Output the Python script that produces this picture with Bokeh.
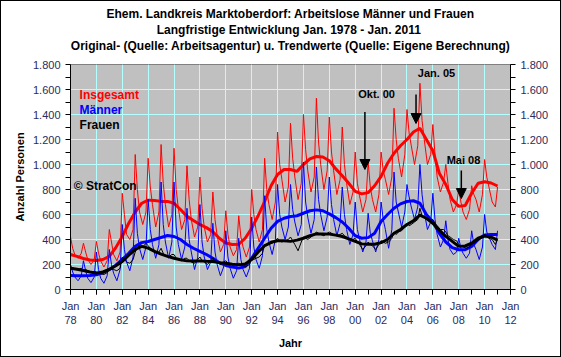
from bokeh.plotting import figure
from bokeh.models import Label, Arrow, NormalHead, LinearAxis, FixedTicker, Title
from bokeh.embed import file_html
from bokeh.resources import INLINE

# ---------------- data ----------------
years = list(range(1978, 2011))
months = [1, 3, 5, 8, 11]          # sampled months per year (Jan, Mar, May, Aug, Nov)
end_point = 2011.0                  # last observation: Jan 2011

# raw values per year: [Jan, Mar, May, Aug, Nov]
insgesamt_raw = [
    [420, 330, 280, 250, 290], [370, 300, 240, 200, 240], [385, 290, 230, 180, 230],
    [480, 380, 280, 230, 300], [770, 600, 440, 400, 480], [1080, 800, 620, 520, 620],
    [1050, 820, 680, 500, 620], [1160, 850, 680, 500, 600], [1130, 800, 650, 480, 560],
    [990, 720, 560, 420, 500], [900, 650, 500, 380, 440], [780, 560, 430, 300, 360],
    [630, 440, 340, 270, 320], [590, 420, 340, 260, 340], [800, 600, 480, 380, 480],
    [1050, 800, 680, 560, 700], [1260, 1000, 880, 700, 820], [1330, 1050, 900, 720, 850],
    [1400, 1120, 950, 780, 900], [1530, 1180, 1000, 800, 950], [1380, 1100, 950, 760, 880],
    [1300, 1000, 850, 680, 780], [1100, 850, 750, 620, 720], [1020, 820, 720, 620, 760],
    [1100, 950, 880, 760, 900], [1450, 1200, 1050, 900, 1080], [1440, 1250, 1150, 1000, 1150],
    [1650, 1350, 1200, 1000, 1080], [1320, 1080, 900, 780, 860], [1000, 850, 720, 620, 680],
    [800, 700, 620, 560, 640], [830, 760, 720, 620, 760], [1040, 900, 820, 700, 660],
]
insgesamt_end = 820

maenner_raw = [
    [200, 140, 100, 70, 110], [230, 150, 90, 55, 100], [300, 160, 90, 50, 110],
    [320, 200, 130, 70, 160], [520, 320, 220, 150, 260], [730, 450, 330, 240, 340],
    [720, 480, 360, 250, 360], [860, 520, 380, 250, 380], [860, 500, 360, 240, 340],
    [650, 400, 300, 160, 260], [680, 380, 260, 160, 220], [530, 300, 200, 110, 180],
    [470, 260, 170, 90, 150], [410, 240, 160, 100, 170], [580, 340, 240, 170, 270],
    [750, 480, 380, 280, 400], [840, 600, 500, 400, 500], [840, 640, 540, 430, 520],
    [1020, 700, 580, 450, 560], [980, 720, 600, 470, 580], [900, 680, 560, 430, 530],
    [820, 600, 480, 360, 440], [700, 480, 400, 300, 380], [610, 450, 390, 300, 400],
    [700, 560, 480, 330, 480], [940, 700, 620, 500, 620], [840, 740, 660, 560, 660],
    [1000, 760, 620, 480, 540], [770, 560, 440, 340, 400], [550, 400, 320, 280, 300],
    [410, 330, 290, 250, 290], [470, 360, 320, 240, 340], [600, 460, 420, 360, 320],
]
maenner_end = 470

frauen_raw = [
    [180, 175, 165, 160, 170], [150, 160, 150, 140, 145], [140, 135, 125, 120, 135],
    [170, 165, 160, 150, 170], [260, 240, 220, 210, 240], [300, 330, 350, 340, 370],
    [350, 330, 320, 290, 300], [330, 290, 270, 260, 280], [280, 250, 240, 230, 250],
    [250, 230, 220, 210, 240], [260, 230, 220, 200, 230], [250, 230, 215, 200, 220],
    [230, 210, 205, 190, 205], [210, 200, 190, 185, 200], [250, 240, 250, 260, 290],
    [360, 350, 360, 370, 390], [410, 390, 380, 390, 400], [420, 390, 360, 310, 380],
    [420, 410, 400, 420, 440], [460, 450, 440, 430, 450], [460, 450, 440, 430, 440],
    [450, 430, 420, 400, 400], [410, 380, 360, 320, 350], [380, 360, 350, 320, 360],
    [390, 380, 370, 380, 410], [460, 440, 460, 470, 500], [530, 510, 520, 540, 560],
    [650, 590, 580, 560, 560], [560, 530, 510, 480, 480], [460, 430, 420, 400, 390],
    [360, 350, 340, 330, 340], [370, 370, 380, 400, 420], [440, 420, 410, 400, 360],
]
frauen_end = 400

# trend values, half-yearly from Jan 1978 to Jan 2011
insgesamt_trend = [
    280, 265, 248, 236, 232, 240, 265, 335, 425, 530, 620, 690, 715, 712, 705, 705,
    690, 640, 585, 552, 520, 495, 462, 410, 372, 360, 362, 410, 490, 590, 704, 830,
    920, 960, 960, 945, 1000, 1045, 1064, 1060, 1030, 965, 910, 850, 785, 765, 775, 830,
    905, 1010, 1090, 1150, 1200, 1260, 1290, 1200, 1110, 930, 840, 720, 665, 672,
    770, 850, 862, 852, 828,
]
maenner_trend = [
    112, 110, 110, 112, 117, 135, 160, 195, 240, 290, 345, 375, 384, 400, 416, 432,
    424, 400, 360, 330, 305, 280, 250, 215, 192, 180, 171, 184, 250, 330, 410, 490,
    545, 570, 584, 590, 610, 630, 637, 630, 605, 575, 540, 490, 430, 410, 415, 450,
    544, 600, 650, 685, 704, 710, 690, 600, 540, 450, 380, 335, 318, 318,
    344, 400, 437, 440, 440,
]
frauen_trend = [
    170, 162, 152, 140, 131, 140, 160, 190, 224, 275, 320, 345, 331, 305, 283, 265,
    250, 238, 229, 228, 229, 226, 224, 215, 210, 203, 197, 205, 240, 300, 350, 378,
    390, 390, 385, 395, 410, 430, 445, 445, 443, 435, 424, 405, 385, 365, 362, 362,
    375, 400, 450, 480, 520, 550, 595, 570, 530, 475, 425, 385, 345, 348,
    370, 410, 428, 420, 395,
]

y_ticks = [0, 200, 400, 600, 800, 1000, 1200, 1400, 1600, 1800]
y_tick_labels = ["0", "200", "400", "600", "800", "1.000", "1.200", "1.400", "1.600", "1.800"]
x_ticks = list(range(1978, 2013, 2))
x_tick_labels = ["Jan\n%02d" % (y % 100) for y in x_ticks]

title_lines = [
    "Ehem. Landkreis Marktoberdorf: Arbeitslose Männer und Frauen",
    "Langfristige Entwicklung Jan. 1978 -  Jan. 2011",
    "Original- (Quelle: Arbeitsagentur) u. Trendwerte (Quelle: Eigene Berechnung)",
]

# ---------------- derived x positions ----------------
raw_t = [y + (m - 1) / 12 for y in years for m in months] + [end_point]
trend_t = [1978 + i / 2 for i in range(len(insgesamt_trend))]

def flat(rows, end):
    return [v for r in rows for v in r] + [end]

# ---------------- figure ----------------
p = figure(width=561, height=357, x_range=(1978, 2012), y_range=(0, 1800),
           output_backend="svg", toolbar_location=None, title=None,
           min_border_left=69, min_border_right=52, min_border_top=63, min_border_bottom=69)
p.background_fill_color = "#C0C0C0"
p.border_fill_color = "white"
p.outline_line_color = "#808080"
p.styles = {"border": "1px solid black", "box-sizing": "border-box"}

FONT = "Liberation Sans"
LBL = "#2B2B5E"

# spacer between plot area and title block
p.add_layout(Title(text=" ", standoff=0, text_font=FONT, text_font_size="9px"), "above")
# stacked title lines (added from the plot outwards)
for txt in reversed(title_lines):
    p.add_layout(Title(text=txt, align="center", offset=-30, standoff=0,
                       text_font=FONT, text_font_size="12px", text_font_style="bold",
                       text_color="black"), "above")

p.xaxis.ticker = FixedTicker(ticks=x_ticks, minor_ticks=list(range(1978, 2013)))
p.xaxis.major_label_overrides = dict(zip(x_ticks, x_tick_labels))
p.yaxis.ticker = FixedTicker(ticks=y_ticks, minor_ticks=list(range(100, 1800, 200)))
p.yaxis.major_label_overrides = dict(zip(y_ticks, y_tick_labels))
p.xaxis.axis_label = "Jahr"
p.yaxis.axis_label = "Anzahl Personen"

right = LinearAxis(ticker=FixedTicker(ticks=y_ticks, minor_ticks=list(range(100, 1800, 200))))
right.major_label_overrides = dict(zip(y_ticks, y_tick_labels))
p.add_layout(right, "right")

for ax in p.xaxis + p.yaxis + [right]:
    ax.axis_line_color = "black"
    ax.major_tick_line_color = "black"
    ax.minor_tick_line_color = "black"
    ax.major_tick_in = 0
    ax.minor_tick_in = 0
    ax.major_tick_out = 5
    ax.minor_tick_out = 5
    ax.major_label_text_font = FONT
    ax.major_label_text_font_size = "11px"
    ax.major_label_text_color = LBL
    ax.axis_label_text_font = FONT
    ax.axis_label_text_font_size = "11px"
    ax.axis_label_text_font_style = "bold"
    ax.axis_label_text_color = "black"
    ax.major_label_standoff = 5
    ax.axis_label_standoff = 8
for ax in p.yaxis:
    ax.axis_label_standoff = 4

p.xgrid.ticker = FixedTicker(ticks=x_ticks)
p.ygrid.ticker = FixedTicker(ticks=y_ticks)
p.grid.grid_line_color = "#B3FFFF"
p.grid.grid_line_width = 1

# series
p.line(raw_t, flat(insgesamt_raw, insgesamt_end), line_color="#FF0000", line_width=1)
p.line(trend_t, insgesamt_trend, line_color="#FF0000", line_width=3)
p.line(raw_t, flat(maenner_raw, maenner_end), line_color="#0000FF", line_width=1)
p.line(trend_t, maenner_trend, line_color="#0000FF", line_width=3)
p.line(raw_t, flat(frauen_raw, frauen_end), line_color="black", line_width=1)
p.line(trend_t, frauen_trend, line_color="black", line_width=3)

def lab(x, y, text, color="black", size="11px", align="left", bold=True):
    p.add_layout(Label(x=x, y=y, text=text, text_color=color, text_font=FONT,
                       text_font_size=size, text_align=align, text_baseline="middle",
                       text_font_style="bold" if bold else "normal"))

# legend texts
lab(1978.7, 1560, "Insgesamt", color="#FF0000", size="12px")
lab(1978.7, 1440, "Männer", color="#0000FF", size="12px")
lab(1978.7, 1320, "Frauen", color="black", size="12px")
lab(1978.25, 832, "© StratCon", color="black", size="12px")

# annotations with arrows
lab(2001.65, 1568, "Okt. 00", align="center")
lab(2006.28, 1736, "Jan. 05", align="center")
lab(2008.37, 1040, "Mai 08", align="center")
for xa, y0, y1 in [(2000.75, 1420, 960), (2004.7, 1560, 1328), (2008.2, 952, 728)]:
    p.add_layout(Arrow(end=NormalHead(size=10, fill_color="black", line_color="black"),
                       x_start=xa, y_start=y0, x_end=xa, y_end=y1,
                       line_color="black", line_width=1.5))

open("out.html", "w").write(file_html(p, INLINE))
